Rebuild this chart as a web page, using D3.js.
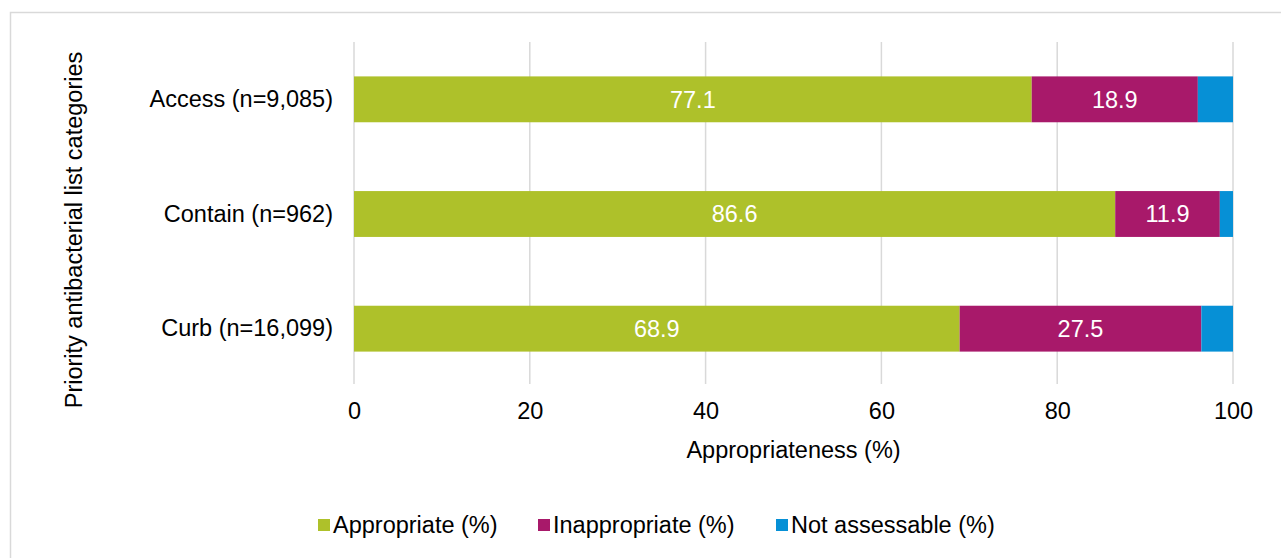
<!DOCTYPE html>
<html>
<head>
<meta charset="utf-8">
<script src="https://cdn.jsdelivr.net/npm/d3@7"></script>
<style>
  html, body { margin: 0; padding: 0; background: #fff; }
  svg { display: block; font-family: "Liberation Sans", Arial, Helvetica, sans-serif; }
</style>
</head>
<body>
<svg id="chart" width="1281" height="558"></svg>
<script>
// Appropriateness of prescribing by priority antibacterial list category
const categories = ["Access (n=9,085)", "Contain (n=962)", "Curb (n=16,099)"];
const seriesNames = ["Appropriate (%)", "Inappropriate (%)", "Not assessable (%)"];
const appropriate = [77.1, 86.6, 68.9];
const inappropriate = [18.9, 11.9, 27.5];
const notAssessable = [4.0, 1.5, 3.6];
const xTicks = [0, 20, 40, 60, 80, 100];
const colors = ["#AEC12A", "#A8196A", "#0690D6"];

const rows = categories.map((c, i) => ({
  category: c,
  "Appropriate (%)": appropriate[i],
  "Inappropriate (%)": inappropriate[i],
  "Not assessable (%)": notAssessable[i]
}));

const svg = d3.select("#chart");
const fontSize = 23.5;

// outer frame
svg.append("rect")
  .attr("x", 10.5).attr("y", 12.5)
  .attr("width", 1300).attr("height", 600)
  .attr("fill", "none").attr("stroke", "#d9d9d9").attr("stroke-width", 1.5);

const plot = { left: 354, right: 1233, top: 42, bottom: 386 };

const x = d3.scaleLinear().domain([0, 100]).range([plot.left, plot.right]);
const y = d3.scaleBand().domain(categories).range([plot.top, plot.bottom]).paddingInner(0.6).paddingOuter(0.3);

// vertical gridlines
svg.append("g")
  .selectAll("line")
  .data(xTicks)
  .join("line")
  .attr("x1", d => x(d)).attr("x2", d => x(d))
  .attr("y1", plot.top).attr("y2", plot.bottom - 2)
  .attr("stroke", "#d9d9d9").attr("stroke-width", 1.5);

// stacked bars
const stack = d3.stack().keys(seriesNames);
const layers = stack(rows);
const color = d3.scaleOrdinal().domain(seriesNames).range(colors);

const layerG = svg.append("g")
  .selectAll("g")
  .data(layers)
  .join("g")
  .attr("fill", d => color(d.key));

layerG.selectAll("rect")
  .data(d => d)
  .join("rect")
  .attr("x", d => x(d[0]))
  .attr("y", d => y(d.data.category))
  .attr("width", d => x(d[1]) - x(d[0]))
  .attr("height", y.bandwidth());

// value labels for the two larger segments
layers.slice(0, 2).forEach(layer => {
  svg.append("g")
    .selectAll("text")
    .data(layer)
    .join("text")
    .attr("x", d => (x(d[0]) + x(d[1])) / 2)
    .attr("y", d => y(d.data.category) + y.bandwidth() / 2)
    .attr("dy", "0.36em")
    .attr("text-anchor", "middle")
    .attr("fill", "#fff")
    .attr("font-size", fontSize)
    .text(d => (d[1] - d[0]).toFixed(1));
});

// x axis
const xAxis = d3.axisBottom(x).tickValues(xTicks).tickSize(0).tickPadding(0);
const xg = svg.append("g")
  .attr("transform", `translate(0, ${plot.bottom})`)
  .call(xAxis);
xg.select(".domain").remove();
xg.selectAll("text")
  .attr("font-size", fontSize)
  .attr("font-family", "Liberation Sans, Arial, sans-serif")
  .attr("fill", "#000")
  .attr("dy", "1.4em");

// y axis
const yAxis = d3.axisLeft(y).tickSize(0).tickPadding(21);
const yg = svg.append("g")
  .attr("transform", `translate(${plot.left}, 0)`)
  .call(yAxis);
yg.select(".domain").remove();
yg.selectAll("text")
  .attr("font-size", fontSize)
  .attr("font-family", "Liberation Sans, Arial, sans-serif")
  .attr("fill", "#000");

// axis titles
svg.append("text")
  .attr("x", (plot.left + plot.right) / 2)
  .attr("y", 458)
  .attr("text-anchor", "middle")
  .attr("font-size", fontSize)
  .attr("fill", "#000")
  .text("Appropriateness (%)");

svg.append("text")
  .attr("transform", `translate(82, 230) rotate(-90)`)
  .attr("text-anchor", "middle")
  .attr("font-size", fontSize)
  .attr("fill", "#000")
  .text("Priority antibacterial list categories");

// legend
const legendX = [318, 538, 776];
const legend = svg.append("g")
  .selectAll("g")
  .data(seriesNames)
  .join("g")
  .attr("transform", (d, i) => `translate(${legendX[i]}, 525)`);
legend.append("rect")
  .attr("x", 0).attr("y", -6)
  .attr("width", 12).attr("height", 12)
  .attr("fill", d => color(d));
legend.append("text")
  .attr("x", 15)
  .attr("y", 0)
  .attr("dy", "0.36em")
  .attr("font-size", fontSize)
  .attr("fill", "#000")
  .text(d => d);
</script>
</body>
</html>
